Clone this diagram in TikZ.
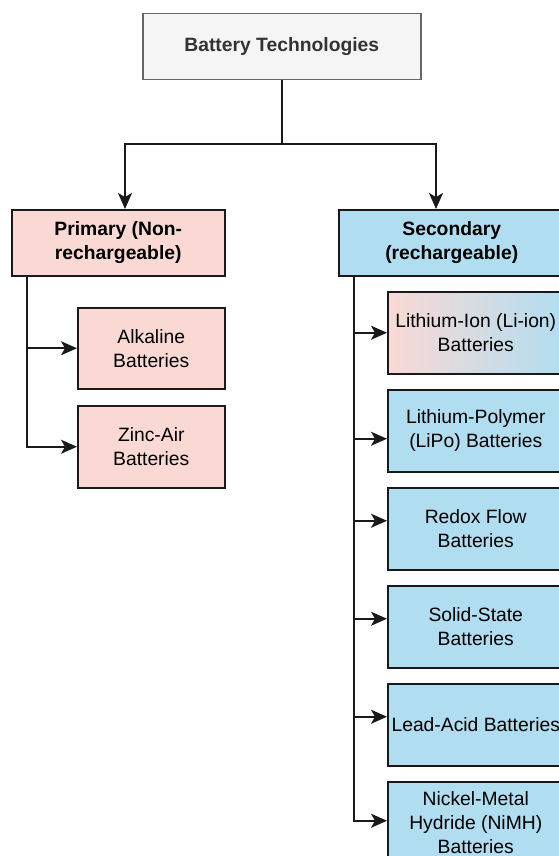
\documentclass[tikz,border=0pt]{standalone}
\usepackage{fontspec}
\setmainfont{Liberation Sans}
\usetikzlibrary{arrows.meta,calc}
\definecolor{pinkc}{HTML}{FAD9D5}
\definecolor{bluec}{HTML}{B1DDF0}
\definecolor{greyf}{HTML}{F5F5F5}
\definecolor{greyd}{HTML}{666666}
\definecolor{greyt}{HTML}{333333}
\definecolor{edgec}{HTML}{1A1A1A}
\begin{document}
\begin{tikzpicture}[x=1pt,y=-1pt,
  box/.style={draw=edgec, line width=1.5pt, rectangle, align=center, inner sep=0pt,
    anchor=north west, font=\fontsize{19.3}{24}\selectfont},
  pbox/.style={box, fill=pinkc},
  sbox/.style={box, fill=bluec},
  kid/.style={minimum width=176pt, minimum height=82pt},
  conn/.style={draw=edgec, line width=1.6pt},
  >={Stealth[length=16pt,width=14pt,inset=4pt]},
  arr/.style={conn, ->}
]
\useasboundingbox (0,0) rectangle (559,856);
\clip (0,0) rectangle (559,856);

\node[box, fill=greyf, draw=greyd, text=greyt, font=\fontsize{19.3}{24}\selectfont\bfseries,
  minimum width=278pt, minimum height=66pt] (top) at (142,13) {Battery Technologies};

\node[pbox, font=\fontsize{19.3}{24}\selectfont\bfseries, minimum width=213pt, minimum height=66pt]
  (prim) at (11,209) {Primary (Non-\\rechargeable)};
\node[sbox, font=\fontsize{19.3}{24}\selectfont\bfseries, minimum width=226pt, minimum height=66pt]
  (sec) at (338,209) {Secondary\\(rechargeable)};

\node[pbox, minimum width=147pt, minimum height=81pt] (alk) at (77,307) {Alkaline\\Batteries};
\node[pbox, minimum width=147pt, minimum height=82pt] (zinc) at (77,405) {Zinc-Air\\Batteries};

\node[box, kid, left color=pinkc, right color=bluec] (liion) at (387,291) {Lithium-Ion (Li-ion)\\Batteries};
\node[sbox, kid] (lipo) at (387,389) {Lithium-Polymer\\(LiPo) Batteries};
\node[sbox, kid] (redox) at (387,487) {Redox Flow\\Batteries};
\node[sbox, kid] (solid) at (387,585) {Solid-State\\Batteries};
\node[sbox, kid] (lead) at (387,683) {Lead-Acid Batteries};
\node[sbox, kid] (nimh) at (387,781) {Nickel-Metal\\Hydride (NiMH)\\Batteries};

\coordinate (jL) at (125,144);
\coordinate (jR) at (436,144);
\draw[conn] (top.south) -- (top.south |- jL);
\draw[arr] (top.south |- jL) -- (jL) -- (jL |- prim.north);
\draw[arr] (top.south |- jR) -- (jR) -- (jR |- sec.north);

\coordinate (pt) at ([xshift=16pt]prim.south west);
\draw[arr] (pt) |- (alk.west);
\draw[arr] (pt) |- (zinc.west);

\coordinate (st) at ([xshift=16pt]sec.south west);
\draw[arr] (st) |- (liion.west);
\draw[arr] (st) |- ([yshift=-8pt]lipo.west);
\draw[arr] (st) |- ([yshift=8pt]redox.west);
\draw[arr] (st) |- ([yshift=8pt]solid.west);
\draw[arr] (st) |- ([yshift=8pt]lead.west);
\draw[arr] (st) |- ([yshift=2pt]nimh.west);
\end{tikzpicture}
\end{document}
